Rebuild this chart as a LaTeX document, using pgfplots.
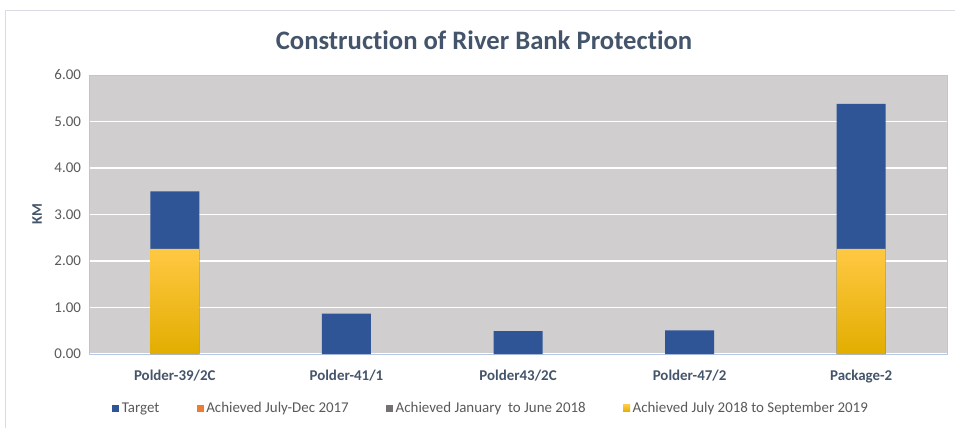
\documentclass[border=0pt]{standalone}
\usepackage{fontspec}
\setmainfont{Carlito}[Ligatures=NoCommon]
\usepackage{pgfplots}
\pgfplotsset{compat=1.18}

\definecolor{target}{HTML}{2F5597}
\definecolor{achA}{HTML}{ED7D31}
\definecolor{achB}{HTML}{767171}
\definecolor{achC}{HTML}{FFC000}
\definecolor{achCtop}{HTML}{FFC843}
\definecolor{achCbot}{HTML}{E2AE00}
\definecolor{plotbg}{HTML}{D0CECE}
\definecolor{axisline}{HTML}{B4C7E7}
\definecolor{titlecol}{HTML}{44546A}
\definecolor{tickcol}{HTML}{595959}
\definecolor{framecol}{HTML}{D9DDE3}

\begin{document}
\begin{tikzpicture}[x=0.75pt,y=0.75pt]
\path[use as bounding box] (0,0) rectangle (955,428);
\draw[framecol] (5,0) -- (5,418) -- (955,418);
\node[font=\fontsize{20}{24}\selectfont\bfseries, text=titlecol] at (484,388) {Construction of River Bank Protection};
\node[rotate=90, font=\fontsize{11}{13}\selectfont\bfseries, text=titlecol] at (37,214) {KM};

\begin{axis}[
    at={(66.75pt,55.5pt)}, anchor=south west,
    scale only axis,
    width=643.5pt, height=209.25pt,
    xmin=-0.5, xmax=4.5, ymin=0, ymax=6,
    ytick={0,1,2,3,4,5,6},
    xtick={0,1,2,3,4},
    xticklabels={Polder-39/2C, Polder-41/1, Polder43/2C, Polder-47/2, Package-2},
    axis background/.style={fill=plotbg},
    axis line style={axisline},
    ymajorgrids,
    major grid style={white, line width=1pt},
    tick style={draw=none},
    xticklabel style={font=\fontsize{11.2}{13}\selectfont\bfseries, text=titlecol, yshift=-4pt},
    yticklabel style={font=\fontsize{11.2}{13}\selectfont, text=tickcol, xshift=-2.5pt,
        /pgf/number format/fixed, /pgf/number format/fixed zerofill,
        /pgf/number format/precision=2},
    /pgf/number format/assume math mode=true,
    ybar, bar width=36.75pt, bar shift=0pt,
    legend columns=4,
    legend style={draw=none, fill=none, at={(0.469,-0.195)}, anchor=center,
        font=\fontsize{11.2}{13}\selectfont, text=tickcol,
        /tikz/every even column/.append style={column sep=26pt}},
    legend image code/.code={\fill[#1] (0pt,-2.6pt) rectangle (5.2pt,2.6pt);},
]
% Target
\addplot[fill=target, draw=none] coordinates {
    (0,3.50) (1,0.87) (2,0.49) (3,0.51) (4,5.38)
};
\addlegendentry{Target}

% Achieved July-Dec 2017 (no bars)
\addlegendimage{fill=achA, draw=none}
\addlegendentry{Achieved July-Dec 2017}

% Achieved January to June 2018 (no bars)
\addlegendimage{fill=achB, draw=none}
\addlegendentry{Achieved January\ \ to June 2018}

% Achieved July 2018 to September 2019
\addplot[draw=none, top color=achCtop, middle color=achC, bottom color=achCbot] coordinates {
    (0,2.26) (4,2.26)
};
\addlegendentry{Achieved July 2018 to September 2019}
\end{axis}
\end{tikzpicture}
\end{document}
